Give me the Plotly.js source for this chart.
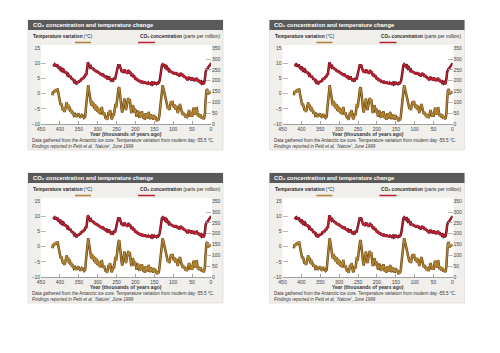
<!DOCTYPE html>
<html><head><meta charset="utf-8">
<script src="https://cdn.plot.ly/plotly-3.0.1.min.js"></script>
<style>html,body{margin:0;padding:0;background:#fff}#chart{width:500px;height:353px}</style>
</head><body><div id="chart"></div>
<script>
// ---------- DATA ----------
const tempAge = [420,418,416,414,412,410,408,406,404,402,400,398,396,394,392,390,388,386,384,382,380,378,376,374,372,370,368,366,363,360,357,354,351,348,345,342,339,336,333,331,329,327,325,323,321,319,317,315,313,311,309,307,305,303,301,299,297,295,293,291,289,287,285,283,281,279,277,275,273,271,269,267,265,263,261,259,257,255,253,251,249,247,245,243,241,239,237,235,233,231,229,227,225,223,221,219,217,215,213,211,209,207,205,203,201,199,197,195,193,191,189,187,185,183,181,179,177,175,173,171,169,167,165,163,161,159,157,155,153,151,149,147,145,143,141,139,137,135,133,131,129,128,126,124,122,120,118,116,114,112,110,108,106,104,102,100,98,96,94,92,90,88,86,84,82,80,78,76,74,72,70,68,66,64,62,60,58,56,54,52,50,48,46,44,42,40,38,36,34,32,30,28,26,24,22,20,18,16,15,14,13,12,11,10,9,8,7,5,4,2,1,0];
const tempVar = [-0.5,0.8,0.3,1.2,0.6,1.5,1.0,1.7,0.2,-1.5,-3.0,-3.8,-3.2,-4.5,-5.5,-4.8,-6.0,-5.2,-3.5,-2.8,-4.6,-3.6,-5.5,-4.3,-6.0,-5.3,-6.6,-6.0,-7.2,-6.8,-7.6,-7.2,-6.5,-7.4,-7.9,-7.0,-7.3,-8.0,-7.6,-4.5,-1.0,1.5,2.8,1.2,-0.8,-2.5,-3.8,-2.4,-4.2,-3.0,-5.0,-3.4,-5.6,-4.0,-6.0,-4.6,-6.4,-5.2,-6.8,-5.6,-4.4,-6.2,-7.0,-6.2,-7.6,-8.2,-7.8,-8.6,-7.4,-6.0,-6.8,-5.4,-7.2,-8.4,-7.8,-6.4,-7.2,-5.2,-3.4,-4.6,-1.8,0.2,1.6,2.2,0.6,-2.2,-4.8,-6.2,-4.8,-3.0,-1.6,-3.6,-5.4,-4.0,-2.2,-1.4,-2.8,-1.8,-4.2,-6.4,-5.0,-3.8,-4.6,-6.2,-5.0,-6.6,-7.6,-6.4,-5.6,-7.0,-8.0,-6.2,-7.6,-5.8,-6.8,-8.2,-7.2,-8.6,-6.4,-7.8,-6.6,-8.2,-6.0,-7.4,-8.4,-6.8,-8.0,-7.2,-8.6,-7.0,-8.2,-7.6,-8.8,-9.0,-8.4,-8.8,-7.6,-5.0,-2.0,0.6,2.4,2.8,1.8,0.6,-0.6,-1.8,-3.2,-4.4,-5.0,-4.2,-5.4,-3.8,-2.6,-3.4,-2.4,-3.8,-4.6,-3.6,-5.2,-4.0,-5.6,-6.4,-5.2,-3.8,-3.4,-4.6,-5.6,-6.8,-6.0,-7.2,-6.6,-7.8,-6.8,-8.0,-7.4,-6.0,-5.4,-6.6,-7.6,-6.4,-7.6,-5.8,-4.6,-6.8,-5.2,-7.0,-4.4,-6.2,-7.4,-6.6,-7.8,-6.8,-8.0,-8.2,-7.6,-8.4,-8.0,-6.4,-3.6,-1.2,0.6,1.4,1.0,1.6,0.4,-0.4,0.6,0.0,0.8,0.2,0.6,0.8];
const co2Age = [418,416,414,412,410,408,406,404,402,400,398,396,394,392,390,388,386,384,382,380,378,376,374,372,370,368,366,364,362,360,358,356,354,352,350,348,346,344,342,340,338,336,334,332,330,328,326,324,322,320,318,316,314,312,310,308,306,304,302,300,298,296,294,292,290,288,286,284,282,280,278,276,274,272,270,268,266,264,262,260,258,256,254,252,250,248,246,244,242,240,238,236,234,232,230,228,226,224,222,220,218,216,214,212,210,208,206,204,202,200,198,196,194,192,190,188,186,184,182,180,178,176,174,172,170,168,166,164,162,160,158,156,154,152,150,148,146,144,142,140,138,136,134,132,130,128,126,124,122,120,118,116,114,112,110,108,106,104,102,100,98,96,94,92,90,88,86,84,82,80,78,76,74,72,70,68,66,64,62,60,58,56,54,52,50,48,46,44,42,40,38,36,34,32,30,28,26,24,22,20,18,16,15,14,12,11,10,8,6,4,2,1,0];
const co2Ppm = [275,272,276,270,272,268,270,262,266,255,258,248,252,245,250,240,236,242,232,226,230,222,216,222,212,205,210,200,194,198,188,184,190,198,192,202,196,210,204,214,208,222,216,232,226,262,285,278,270,262,266,256,262,250,256,245,250,240,248,236,242,232,238,226,234,222,232,226,218,224,212,216,206,212,220,210,204,210,200,196,204,214,206,222,244,260,270,268,275,262,248,240,250,236,244,252,238,244,232,240,250,236,242,230,222,232,216,224,212,205,214,200,208,196,204,192,198,190,200,186,194,188,196,186,192,184,190,184,192,186,190,184,190,186,190,184,192,186,190,188,192,200,222,252,272,276,270,272,264,268,258,262,250,246,250,240,246,236,242,232,238,228,240,230,236,224,232,220,228,236,226,232,218,226,214,220,208,214,202,210,218,206,212,200,216,204,212,198,210,200,214,198,206,194,200,192,196,188,192,184,190,210,230,242,250,256,252,260,264,268,274,278,282];
const xTickVals = [450,400,350,300,250,200,150,100,50,0];
const tempTickVals = [-10,-5,0,5,10,15];
const co2TickVals = [0,50,100,150,200,250,300,350];
const chartTitle = 'CO₂ concentration and temperature change';
const tempLabel = '<b>Temperature variation</b> (°C)';
const co2Label = '<b>CO₂ concentration</b> (parts per million)';
const xTitle = '<b>Year (thousands of years ago)</b>';
const note1 = 'Data gathered from the Antarctic ice core. Temperature variation from modern day -55.5 °C.';
const note2 = '<i>Findings reported in Petit et al, ‘Nature’, June 1999</i>';

// ---------- LAYOUT ----------
const W = 500, H = 353;
const FONT = 'Liberation Sans, Arial, sans-serif';
const px = v => v / W;
const py = v => 1 - v / H;
const offsets = [[0,0],[241.5,0],[0,153],[241.5,153]];
const TEMP_COL = '#b08333', TEMP_DARK = '#664410';
const CO2_COL = '#b92233', CO2_DARK = '#660c16';

const data = [];
const layout = {
  width: W, height: H, margin: {l:0,r:0,t:0,b:0},
  paper_bgcolor: '#ffffff', plot_bgcolor: 'rgba(0,0,0,0)',
  showlegend: false, shapes: [], annotations: [],
  font: {family: FONT, size: 5, color: '#333'}
};

offsets.forEach(([dx, dy], i) => {
  const n = i + 1;
  const xk = 'x' + (n === 1 ? '' : n);
  const yL = 2 * n - 1, yR = 2 * n;
  const yLk = 'y' + (yL === 1 ? '' : yL), yRk = 'y' + yR;
  const x0 = 41 + dx, x1 = 211 + dx, yt = 48.3 + dy, yb = 124 + dy;

  data.push({x: tempAge, y: tempVar, xaxis: xk, yaxis: yLk, mode: 'lines', line: {color: TEMP_DARK, width: 2.5}, hoverinfo: 'skip'});
  data.push({x: tempAge, y: tempVar, xaxis: xk, yaxis: yLk, mode: 'lines', line: {color: TEMP_COL, width: 1.3}, hoverinfo: 'skip'});
  data.push({x: co2Age, y: co2Ppm, xaxis: xk, yaxis: yRk, mode: 'lines', line: {color: CO2_DARK, width: 2.5}, hoverinfo: 'skip'});
  data.push({x: co2Age, y: co2Ppm, xaxis: xk, yaxis: yRk, mode: 'lines', line: {color: CO2_COL, width: 1.3}, hoverinfo: 'skip'});

  const tf = {family: FONT, size: 5, color: '#444'};
  layout['xaxis' + (n === 1 ? '' : n)] = {
    domain: [px(x0), px(x1)], range: [450, 0], anchor: yLk,
    tickvals: xTickVals, ticks: 'inside', ticklen: 3, tickcolor: '#8c8c8c', tickwidth: 0.8,
    showline: true, linecolor: '#8c8c8c', linewidth: 0.8, showgrid: false, zeroline: false,
    tickfont: tf, fixedrange: true
  };
  layout['yaxis' + (yL === 1 ? '' : yL)] = {
    domain: [py(yb), py(yt)], range: [-10, 15], anchor: xk,
    tickvals: tempTickVals, ticks: 'inside', ticklen: 5, tickcolor: '#a8a8a8', tickwidth: 0.8,
    showline: false, showgrid: false, zeroline: false, tickfont: tf, fixedrange: true
  };
  layout['yaxis' + yR] = {
    domain: [py(yb), py(yt)], range: [0, 350], anchor: xk, overlaying: yLk, side: 'right',
    tickvals: co2TickVals, ticks: 'inside', ticklen: 5, tickcolor: '#a8a8a8', tickwidth: 0.8,
    showline: false, showgrid: false, zeroline: false, tickfont: tf, fixedrange: true
  };

  layout.shapes.push({type: 'rect', xref: 'paper', yref: 'paper', layer: 'below',
    x0: px(28 + dx), x1: px(223 + dx), y0: py(150 + dy), y1: py(20 + dy),
    fillcolor: '#f1efeb', line: {color: '#d9d5d0', width: 0.6}});
  layout.shapes.push({type: 'rect', xref: 'paper', yref: 'paper', layer: 'below',
    x0: px(x0), x1: px(x1 + 1), y0: py(yb), y1: py(45 + dy),
    fillcolor: '#ffffff', line: {width: 0}});
  layout.shapes.push({type: 'rect', xref: 'paper', yref: 'paper', layer: 'below',
    x0: px(28 + dx), x1: px(223 + dx), y0: py(30 + dy), y1: py(20 + dy),
    fillcolor: '#5a5a5a', line: {width: 0}});
  layout.shapes.push({type: 'line', xref: 'paper', yref: 'paper',
    x0: px(75 + dx), x1: px(91 + dx), y0: py(42.5 + dy), y1: py(42.5 + dy),
    line: {color: TEMP_COL, width: 1.5}});
  layout.shapes.push({type: 'line', xref: 'paper', yref: 'paper',
    x0: px(138 + dx), x1: px(155 + dx), y0: py(42.5 + dy), y1: py(42.5 + dy),
    line: {color: CO2_COL, width: 1.5}});

  const ann = (text, x, y, xanchor, size, color) => layout.annotations.push({
    text, x: px(x), y: py(y), xref: 'paper', yref: 'paper', xanchor, yanchor: 'middle',
    showarrow: false, font: {family: FONT, size, color}
  });
  ann('<b>' + chartTitle + '</b>', 30.5 + dx, 25 + dy, 'left', 5.8, '#ffffff');
  ann(tempLabel, 31 + dx, 37 + dy, 'left', 4.75, '#2a2a2a');
  ann(co2Label, 221.5 + dx, 37 + dy, 'right', 4.75, '#2a2a2a');
  ann(xTitle, 126 + dx, 134 + dy, 'center', 5, '#333');
  ann(note1, 30 + dx, 140.5 + dy, 'left', 4.5, '#333');
  ann(note2, 30 + dx, 146 + dy, 'left', 4.5, '#333');
});

Plotly.newPlot('chart', data, layout, {staticPlot: true, displayModeBar: false});
</script>
</body></html>
